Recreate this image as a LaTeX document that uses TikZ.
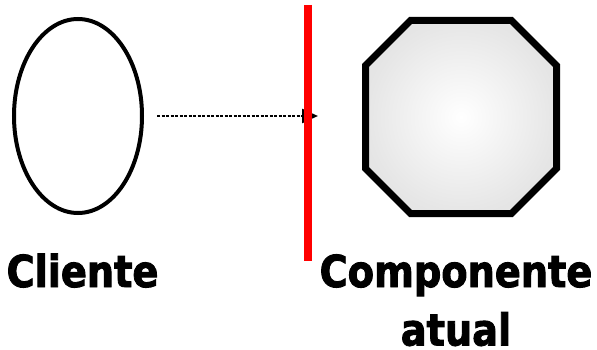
\documentclass[tikz,border=0pt]{standalone}
\usepackage{fontspec}
\newfontfamily\lblfont{DejaVu Sans}[FakeStretch=0.87,FakeBold=2]
\usetikzlibrary{arrows.meta,shapes.geometric}
\tikzset{
  clientshape/.style={draw=black, line width=4pt, shape=ellipse, minimum width=128pt, minimum height=194pt, inner sep=0pt},
  octastyle/.style={draw=black, line width=7pt, line join=miter, inner color=white, outer color=black!10},
  barrier/.style={draw=red, line width=8pt, line cap=butt},
  dep/.style={draw=black, line width=2.5pt, dash pattern=on 3pt off 1.5pt, -{Triangle[length=16pt,width=14pt]}},
  lbl/.style={font=\lblfont\bfseries\fontsize{44}{52}\selectfont, text=black, inner sep=0pt, anchor=base}
}
\begin{document}
\begin{tikzpicture}[x=1pt,y=-1pt]
\useasboundingbox (0,0) rectangle (597,350);
% client
\node[clientshape] (cli) at (78,116) {};
% component octagon
\draw[octastyle] (410.5,20.5) -- (511.5,20.5) -- (556.5,65.5) -- (556.5,168.5) -- (511.5,213.5) -- (410.5,213.5) -- (365.5,168.5) -- (365.5,65.5) -- cycle;
% dependency arrow
\coordinate (tip) at (318,116);
\draw[dep, shorten <=13pt] (cli) -- (tip);
% barrier
\coordinate (rtop) at (308,5);
\coordinate (rbot) at (308,261);
\draw[barrier] (rtop) -- (rbot);
% labels
\node[lbl] (clilbl) at (82.5,287) {Cliente};
\node[lbl] (complbl) at (456,287) {Componente};
\node[lbl] (atuallbl) at (456,345.5) {atual};
\end{tikzpicture}
\end{document}
